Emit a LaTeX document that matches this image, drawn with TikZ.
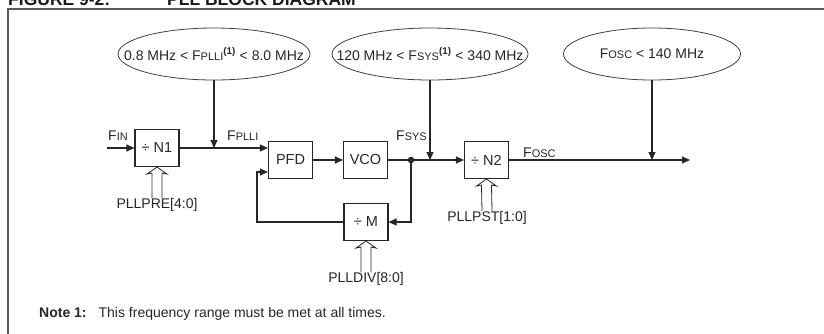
\documentclass[tikz,border=0pt]{standalone}
\usepackage{fontspec}
\setmainfont{Liberation Sans}
\usepackage{tikz}
\usetikzlibrary{shapes.geometric, arrows.meta, calc}

\newcommand{\fq}[1]{F{\fontsize{11}{12}\selectfont #1}}
\newcommand{\ntref}{\textsuperscript{\bfseries(1)}}

\begin{document}
\begin{tikzpicture}[x=1pt, y=-1pt,
  blk/.style={
    rectangle, draw=black!85, line width=1.1pt, fill=white,
    minimum width=44pt, minimum height=37pt, inner sep=0pt,
    text=black!85, font=\fontsize{14.5}{16}\selectfont},
  oval/.style={
    ellipse, draw=black!75, line width=0.8pt,
    minimum width=#1, minimum height=52pt, inner sep=0pt,
    text=black!85, font=\fontsize{14}{16}\selectfont},
  sig/.style={inner sep=0pt, text=black!85, font=\fontsize{14}{16}\selectfont},
  titletxt/.style={inner sep=0pt, anchor=base west, text=black!90,
    font=\fontsize{17.5}{20}\selectfont\bfseries},
  arr/.style={-{Triangle[length=8pt, width=7pt]}, line width=1.1pt, draw=black!85},
  wire/.style={line width=1.1pt, draw=black!85},
  ctrl/.style={line width=0.8pt, draw=black!85, line join=miter},
  dot/.style={circle, fill=black!85, inner sep=0pt, minimum size=6.5pt},
]
\useasboundingbox (0,0) rectangle (824,333);
\clip (0,0) rectangle (824,333);

%% ---- Caption and frame ----
\node[titletxt] (fig) at (8,5) {FIGURE 9-2:};
\node[titletxt] (ttl) at (167,5) {PLL BLOCK DIAGRAM};
\draw[black!65, line width=1.5pt] (840,9) -- (8,9) -- (8,345);

%% ---- Frequency limits ----
\node[oval=192pt] (ef1) at (214,54) {\makebox[0pt]{0.8 MHz < \fq{PLLI}\ntref{} < 8.0 MHz}};
\node[oval=196pt] (ef2) at (430,54) {\makebox[0pt]{120 MHz < \fq{SYS}\ntref{} < 340 MHz}};
\node[oval=177pt] (ef3) at (652,54) {\makebox[0pt]{\fq{OSC} < 140 MHz}};

%% ---- Blocks ----
\node[blk] (n1) at (157,148) {÷ N1};
\node[blk] (pfd) at (290.5,160) {PFD};
\node[blk] (vco) at (365.5,160) {VCO};
\node[blk] (n2) at (486.5,160) {÷ N2};
\node[blk] (m) at (366,222) {÷ M};

\coordinate (tap) at (411,160);
\coordinate (fin) at (107,148);
\coordinate (out) at (690,160);
\coordinate (fbin) at ($(pfd.west)+(0,12)$);

%% ---- Signal names ----
\node[sig, anchor=base west] (lfin) at (108,140) {\fq{IN}};
\node[sig, anchor=base west] (lpll) at (227,140) {\fq{PLLI}};
\node[sig, anchor=base west] (lsys) at (396,140) {\fq{SYS}};
\node[sig, anchor=base west] (losc) at (523,157) {\fq{OSC}};

%% ---- Control inputs ----
\node[sig] (pre) at (157,205) {PLLPRE[4:0]};
\node[sig] (pst) at (487,218) {PLLPST[1:0]};
\node[sig] (div) at (366,279) {PLLDIV[8:0]};

%% ---- Forward path ----
\draw[arr] (fin) -- (n1.west);
\draw[arr] (n1.east) -- (pfd.west |- n1.east);
\draw[arr] (pfd.east) -- (vco.west);
\draw[wire] (vco.east) -- (tap);
\draw[arr] (tap) -- (n2.west);
\draw[arr] (n2.east) -- (out);

%% ---- Feedback path ----
\draw[arr] (tap) |- (m.east);
\draw[arr] (m.west) -| ($(fbin)+(-11,0)$) -- (fbin);
\node[dot] (tapdot) at (tap) {};

%% ---- Limits into the path ----
\draw[arr] (ef1.south) -- (ef1.south |- n1.east);
\draw[arr] (ef2.south) -- (ef2.south |- pfd.east);
\draw[arr] (ef3.south) -- (ef3.south |- n2.east);

%% ---- Hollow control arrows ----
\foreach \b/\l in {n1/pre, n2/pst, m/div}{
  \draw[ctrl] ($(\l.north)+(-5,0)$) -- ($(\b.south)+(-5,6)$)
    -- ($(\b.south)+(-10,7)$) -- (\b.south) -- ($(\b.south)+(10,7)$)
    -- ($(\b.south)+(5,6)$) -- ($(\l.north)+(5,0)$);
}

%% ---- Note ----
\node[sig, anchor=base west] (note) at (39,317)
  {\textbf{Note 1:}\hspace{12pt}This frequency range must be met at all times.};

\end{tikzpicture}
\end{document}
